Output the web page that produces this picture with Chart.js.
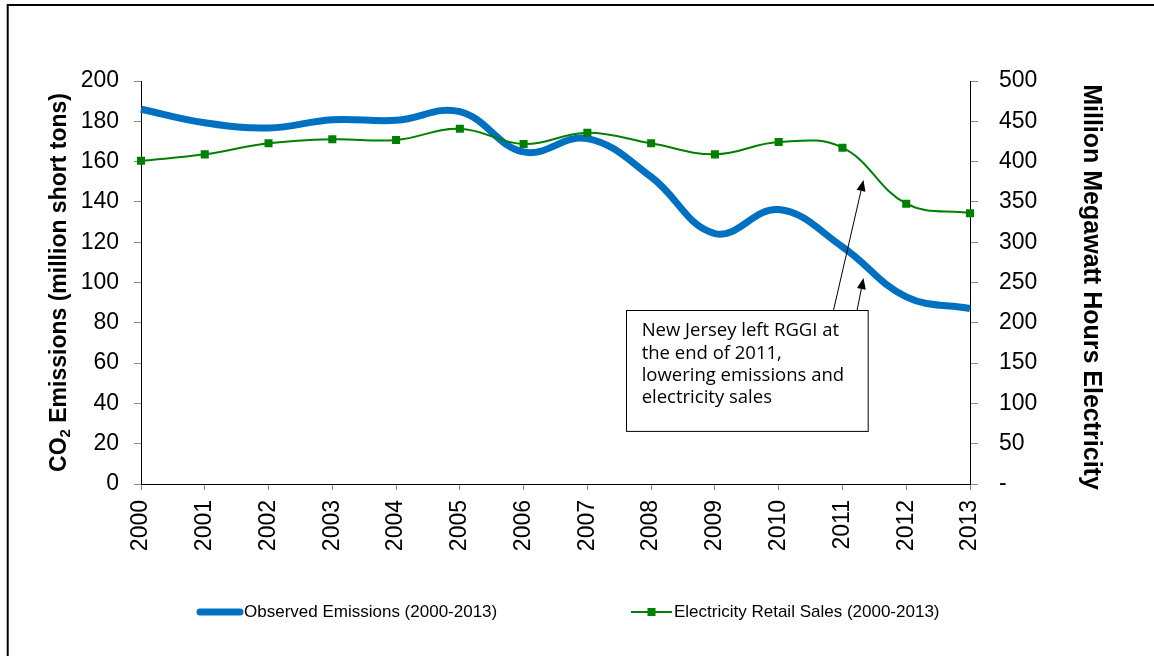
<!DOCTYPE html>
<html>
<head>
<meta charset="utf-8">
<script src="https://cdn.jsdelivr.net/npm/chart.js@4.4.1/dist/chart.umd.min.js"></script>
<style>
  html, body { margin: 0; padding: 0; background: #fff; }
</style>
</head>
<body>
<canvas id="rggiChart" width="1154" height="656"></canvas>
<script>
// values
const years = ['2000', '2001', '2002', '2003', '2004', '2005', '2006', '2007', '2008', '2009', '2010', '2011', '2012', '2013'];
const emissions = [186, 179.3, 176.7, 180.8, 180.5, 184.8, 164.8, 171.4, 152.4, 124.3, 136.2, 117.7, 92.9, 87.1];
const retailSales = [401, 409, 422.7, 427.7, 426.8, 440.8, 421.8, 435.8, 422.7, 409, 424.3, 417.3, 347.8, 335.9];
const leftTicks = [0, 20, 40, 60, 80, 100, 120, 140, 160, 180, 200];
const rightTicks = ['-', '50', '100', '150', '200', '250', '300', '350', '400', '450', '500'];
const noteLines = ['New Jersey left RGGI at', 'the end of 2011,', 'lowering emissions and', 'electricity sales'];

const FONT = "'Liberation Sans', Arial, sans-serif";

// note box and arrows, in category index / left-axis units
const note = { x0: 7.6, x1: 11.39, top: 86.3, bottom: 26.3 };
const arrows = [
    { fromX: 10.86, toX: 11.33, toY: 150.9 },
    { fromX: 11.23, toX: 11.33, toY: 102.2 }
];

function arrow(ctx, x1, y1, x2, y2) {
    const a = Math.atan2(y2 - y1, x2 - x1);
    const len = 11, half = 4.5;
    ctx.beginPath();
    ctx.moveTo(x1, y1);
    ctx.lineTo(x2 - Math.cos(a) * len, y2 - Math.sin(a) * len);
    ctx.stroke();
    ctx.beginPath();
    ctx.moveTo(x2, y2);
    ctx.lineTo(x2 - Math.cos(a) * len - Math.sin(a) * half, y2 - Math.sin(a) * len + Math.cos(a) * half);
    ctx.lineTo(x2 - Math.cos(a) * len + Math.sin(a) * half, y2 - Math.sin(a) * len - Math.cos(a) * half);
    ctx.closePath();
    ctx.fill();
}

const decor = {
    id: 'decor',
    afterDraw(chart) {
        const ctx = chart.ctx;
        const area = chart.chartArea;
        const xs = chart.scales.x, ys = chart.scales.y;
        ctx.save();

        // frame (left and top edges visible)
        ctx.strokeStyle = '#000';
        ctx.lineWidth = 2;
        ctx.strokeRect(7.7, 5, 1400, 900);

        // left axis title with subscript
        ctx.fillStyle = '#000';
        ctx.textBaseline = 'middle';
        ctx.textAlign = 'left';
        const big = 'bold 23px ' + FONT, small = 'bold 15px ' + FONT;
        ctx.font = big;
        const wCO = ctx.measureText('CO').width;
        const wRest = ctx.measureText(' Emissions (million short tons)').width;
        ctx.font = small;
        const w2 = ctx.measureText('2').width;
        const total = wCO + w2 + wRest;
        ctx.save();
        ctx.translate(60, (area.top + area.bottom) / 2);
        ctx.rotate(-Math.PI / 2);
        let px = -total / 2;
        ctx.font = big;
        ctx.fillText('CO', px, 0);
        px += wCO;
        ctx.font = small;
        ctx.fillText('2', px, 6);
        px += w2;
        ctx.font = big;
        ctx.fillText(' Emissions (million short tons)', px, 0);
        ctx.restore();

        // right axis title
        ctx.save();
        ctx.translate(1091, 287);
        ctx.rotate(Math.PI / 2);
        ctx.font = 'bold 25px ' + FONT;
        ctx.textAlign = 'center';
        ctx.fillText('Million Megawatt Hours Electricity', 0, 0);
        ctx.restore();

        // legend
        const ly = 612;
        ctx.lineCap = 'round';
        ctx.strokeStyle = '#0070C0';
        ctx.lineWidth = 7;
        ctx.beginPath(); ctx.moveTo(200, ly); ctx.lineTo(240, ly); ctx.stroke();
        ctx.lineCap = 'butt';
        ctx.strokeStyle = '#008000';
        ctx.lineWidth = 2;
        ctx.beginPath(); ctx.moveTo(631, ly); ctx.lineTo(672, ly); ctx.stroke();
        ctx.fillStyle = '#008000';
        ctx.fillRect(647.5, ly - 4, 8, 8);
        ctx.fillStyle = '#000';
        ctx.font = '17px ' + FONT;
        ctx.textAlign = 'left';
        ctx.fillText('Observed Emissions (2000-2013)', 244, ly);
        ctx.fillText('Electricity Retail Sales (2000-2013)', 674, ly);

        // note box
        const bx0 = xs.getPixelForValue(note.x0), bx1 = xs.getPixelForValue(note.x1);
        const by0 = ys.getPixelForValue(note.top), by1 = ys.getPixelForValue(note.bottom);
        ctx.fillStyle = '#fff';
        ctx.fillRect(bx0, by0, bx1 - bx0, by1 - by0);
        ctx.strokeStyle = '#000';
        ctx.lineWidth = 1;
        ctx.strokeRect(Math.round(bx0) + 0.5, Math.round(by0) + 0.5, bx1 - bx0, by1 - by0);
        ctx.fillStyle = '#000';
        ctx.font = "18.5px 'Open Sans', sans-serif";
        ctx.textBaseline = 'alphabetic';
        noteLines.forEach(function (line, i) {
            ctx.fillText(line, bx0 + 16, by0 + 26 + i * 22.4);
        });

        // arrows
        arrows.forEach(function (a) {
            arrow(ctx, xs.getPixelForValue(a.fromX), by0,
                xs.getPixelForValue(a.toX), ys.getPixelForValue(a.toY));
        });

        ctx.restore();
    }
};

const chart = new Chart(document.getElementById('rggiChart').getContext('2d'), {
    type: 'line',
    data: {
        labels: years,
        datasets: [{
            label: 'Observed Emissions (2000-2013)',
            data: emissions,
            yAxisID: 'y',
            borderColor: '#0070C0',
            borderWidth: 7,
            pointRadius: 0,
            tension: 0.4,
            order: 2
        }, {
            label: 'Electricity Retail Sales (2000-2013)',
            data: retailSales,
            yAxisID: 'y2',
            borderColor: '#008000',
            backgroundColor: '#008000',
            borderWidth: 2,
            pointStyle: 'rect',
            pointRadius: 5.7,
            pointBorderWidth: 0,
            tension: 0.4,
            order: 1
        }]
    },
    options: {
        responsive: false,
        animation: false,
        layout: { padding: { top: 81, left: 0, right: 0, bottom: 0 } },
        plugins: {
            legend: { display: false },
            tooltip: { enabled: false }
        },
        scales: {
            x: {
                grid: { drawOnChartArea: false, drawTicks: true, tickLength: 6, color: '#888' },
                border: { display: true, color: '#000', width: 1 },
                ticks: {
                    color: '#000',
                    font: { family: FONT, size: 23 },
                    minRotation: 90,
                    maxRotation: 90,
                    padding: 10,
                    autoSkip: false
                },
                afterFit: function (scale) { scale.height = 172; }
            },
            y: {
                position: 'left',
                min: 0,
                max: 200,
                grid: { drawOnChartArea: false, drawTicks: true, tickLength: 7, color: '#888' },
                border: { display: true, color: '#000', width: 1 },
                afterBuildTicks: function (scale) {
                    scale.ticks = leftTicks.map(function (v) { return { value: v }; });
                },
                ticks: {
                    color: '#000',
                    font: { family: FONT, size: 23 },
                    padding: 15
                },
                afterFit: function (scale) { scale.width = 141; }
            },
            y2: {
                position: 'right',
                min: 0,
                max: 500,
                grid: { drawOnChartArea: false, drawTicks: true, tickLength: 8, color: '#888' },
                border: { display: true, color: '#000', width: 1 },
                afterBuildTicks: function (scale) {
                    scale.ticks = rightTicks.map(function (t, i) { return { value: i * 50 }; });
                },
                ticks: {
                    color: '#000',
                    font: { family: FONT, size: 23 },
                    padding: 21,
                    callback: function (value, index) { return rightTicks[index]; }
                },
                afterFit: function (scale) { scale.width = 184; }
            }
        }
    },
    plugins: [decor]
});
</script>
</body>
</html>
